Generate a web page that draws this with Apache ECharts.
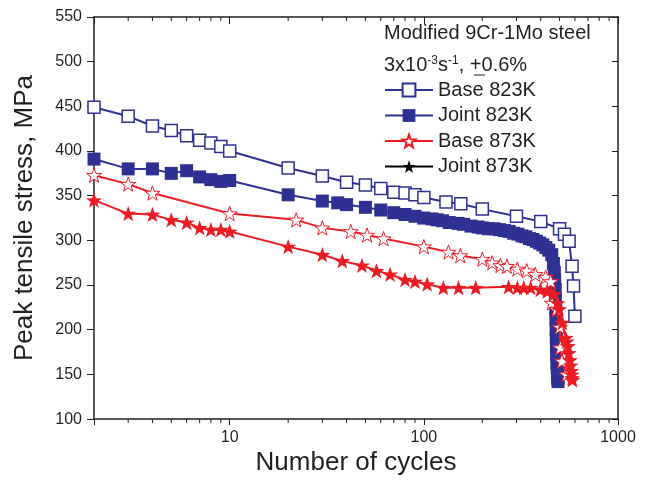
<!DOCTYPE html>
<html>
<head>
<meta charset="utf-8">
<script src="https://cdn.jsdelivr.net/npm/echarts@6/dist/echarts.min.js"></script>
<style>
  html, body { margin: 0; padding: 0; background: #fff; }
  #chart { width: 651px; height: 481px; }
</style>
</head>
<body>
<div id="chart"></div>
<script>
// cycles / peak stress
var base823N = [2, 3, 4, 5, 6, 7, 8, 9, 10, 20, 30, 40, 50, 60, 70, 80, 90, 100, 130, 155, 200, 300, 400, 500, 530, 560, 580, 590, 600];
var base823S = [449, 439, 428, 423, 417, 412, 409, 405, 400, 381, 372, 365, 362, 358, 354, 353, 351, 348, 343, 341, 335, 327, 321, 313, 307, 299, 271, 249, 215];

var joint823N = [2, 3, 4, 5, 6, 7, 8, 9, 10, 20, 30, 36, 40, 50, 60, 70, 80, 90, 100, 110, 117, 125, 135, 150, 160, 175, 190, 200, 215, 230, 245, 260, 275, 290, 305, 320, 335, 350, 365, 380, 395, 410, 425, 440, 456, 465, 470, 472, 475, 476, 478, 479, 480, 481, 482, 483, 485, 486, 488, 489, 490, 491];
var joint823S = [391, 380, 380, 375, 378, 371, 368, 366, 367, 351, 344, 342, 340, 337, 334, 331, 329, 327, 325, 324, 323, 322, 320, 319, 318, 316, 315, 314, 313, 313, 312, 311, 310, 308, 307, 305, 304, 302, 301, 299, 297, 295, 292, 289, 284, 274, 264, 255, 245, 235, 222, 212, 200, 190, 180, 172, 163, 158, 152, 148, 145, 142];

var base873N = [2, 3, 4, 10, 22, 30, 42, 51, 62, 100, 134, 154, 200, 225, 248, 268, 303, 339, 375, 424, 450, 456, 483, 502, 505, 515, 545];
var base873S = [373, 363, 353, 330, 323, 314, 310, 306, 302, 293, 287, 283, 279, 275, 272, 271, 268, 266, 262, 259, 254, 230, 223, 203, 180, 165, 150];

var joint873N = [2, 3, 4, 5, 6, 7, 8, 9, 10, 20, 30, 38, 48, 57, 67, 80, 90, 104, 126, 151, 185, 273, 303, 327, 355, 398, 432, 468, 488, 497, 517, 537, 545, 552, 558, 565, 570, 574, 577, 580, 582];
var joint873S = [345, 330, 329, 323, 320, 314, 312, 312, 310, 293, 284, 277, 272, 266, 262, 256, 254, 251, 247, 247, 247, 248, 247, 247, 247, 245, 243, 240, 230, 223, 208, 191, 187, 182, 174, 166, 160, 154, 150, 146, 144];

var seriesNames = ['Base 823K', 'Joint 823K', 'Base 873K', 'Joint 873K'];
var xTickLabels = [10, 100, 1000];
var minorTicks = [3, 4, 5, 6, 7, 8, 9, 20, 30, 40, 50, 60, 70, 80, 90, 200, 300, 400, 500, 600, 700, 800, 900];

var xMin = 2, xMax = 1000, yMin = 100, yMax = 550;
var navy = '#2e3192';
var red = '#ed1c24';
var ink = '#231f20';
var font = 'Liberation Sans, Arial, sans-serif';
var star = 'path://M0,-10L2.35,-3.24L9.51,-3.09L3.8,1.24L5.88,8.09L0,4L-5.88,8.09L-3.8,1.24L-9.51,-3.09L-2.35,-3.24Z';

function pairs(xs, ys) {
  return xs.map(function (x, i) { return [x, ys[i]]; });
}

// minor ticks of the log axis, bottom (outward) and top (inward)
function renderMinorTick(params, api) {
  var b = api.coord([api.value(0), yMin]);
  var t = api.coord([api.value(0), yMax]);
  var st = { stroke: ink, lineWidth: 1 };
  return {
    type: 'group',
    children: [
      { type: 'line', shape: { x1: b[0], y1: b[1], x2: b[0], y2: b[1] + 4 }, style: st },
      { type: 'line', shape: { x1: t[0], y1: t[1], x2: t[0], y2: t[1] + 4 }, style: st }
    ]
  };
}

var myChart = echarts.init(document.getElementById('chart'));

var axisLine = { lineStyle: { color: ink, width: 1.5 } };

var option = {
  animation: false,
  backgroundColor: '#fff',
  textStyle: { fontFamily: font },
  grid: { left: 94, right: 33, top: 17, bottom: 58 },
  xAxis: [
    {
      type: 'log',
      min: xMin,
      max: xMax,
      axisLine: axisLine,
      axisTick: { inside: false, length: 6, lineStyle: { color: ink, width: 1 } },
      splitLine: { show: false },
      axisLabel: {
        margin: 10,
        color: ink,
        fontSize: 16,
        fontFamily: font,
        formatter: function (v) {
          return xTickLabels.indexOf(Math.round(v)) >= 0 ? String(Math.round(v)) : '';
        }
      },
      name: 'Number of cycles',
      nameLocation: 'middle',
      nameGap: 30,
      nameTextStyle: { fontSize: 26, color: ink, fontFamily: font }
    },
    {
      type: 'log',
      min: xMin,
      max: xMax,
      position: 'top',
      axisLine: axisLine,
      axisTick: { inside: true, length: 7, lineStyle: { color: ink, width: 1 } },
      axisLabel: { show: false },
      splitLine: { show: false }
    }
  ],
  yAxis: [
    {
      type: 'value',
      min: yMin,
      max: yMax,
      interval: 50,
      axisLine: { show: true, lineStyle: { color: ink, width: 1.5 } },
      axisTick: { show: true, inside: false, length: 7, lineStyle: { color: ink, width: 1 } },
      splitLine: { show: false },
      axisLabel: { margin: 12, color: ink, fontSize: 16, fontFamily: font },
      name: 'Peak tensile stress, MPa',
      nameLocation: 'middle',
      nameGap: 56,
      nameTextStyle: { fontSize: 26, color: ink, fontFamily: font }
    },
    {
      type: 'value',
      min: yMin,
      max: yMax,
      interval: 50,
      position: 'right',
      axisLine: { show: true, lineStyle: { color: ink, width: 1.5 } },
      axisTick: { show: true, inside: true, length: 6, lineStyle: { color: ink, width: 1 } },
      axisLabel: { show: false },
      splitLine: { show: false }
    }
  ],
  legend: {
    orient: 'vertical',
    left: 384,
    top: 80,
    padding: 0,
    itemWidth: 48,
    itemHeight: 16,
    itemGap: 5.5,
    textStyle: { fontSize: 20, color: ink, fontFamily: font },
    data: [
      { name: 'Base 823K' },
      { name: 'Joint 823K' },
      { name: 'Base 873K' },
      { name: 'Joint 873K', itemStyle: { color: '#000', borderColor: '#000' }, lineStyle: { color: '#000' } }
    ]
  },
  graphic: [
    {
      type: 'text',
      left: 384,
      top: 23,
      style: { text: 'Modified 9Cr-1Mo steel', font: '20px ' + font, fill: ink }
    },
    {
      type: 'text',
      left: 384,
      top: 55,
      style: {
        text: '3x10{sup|-3}s{sup|-1}, +0.6%',
        font: '20px ' + font,
        fill: ink,
        rich: {
          sup: { fontSize: 12, fontFamily: font, verticalAlign: 'top', fill: ink }
        }
      }
    },
    {
      type: 'line',
      shape: { x1: 474, y1: 75, x2: 485, y2: 75 },
      style: { stroke: ink, lineWidth: 1 }
    }
  ],
  series: [
    {
      name: seriesNames[0],
      type: 'line',
      data: pairs(base823N, base823S),
      symbol: 'rect',
      symbolSize: 12,
      lineStyle: { color: navy, width: 2 },
      itemStyle: { color: '#fff', borderColor: navy, borderWidth: 1.5 },
      z: 2
    },
    {
      name: seriesNames[1],
      type: 'line',
      data: pairs(joint823N, joint823S),
      symbol: 'rect',
      symbolSize: 13,
      lineStyle: { color: navy, width: 2 },
      itemStyle: { color: navy, borderColor: navy, borderWidth: 0 },
      z: 3
    },
    {
      name: seriesNames[2],
      type: 'line',
      data: pairs(base873N, base873S),
      symbol: star,
      symbolKeepAspect: true,
      symbolSize: 15,
      lineStyle: { color: red, width: 2 },
      itemStyle: { color: '#fff', borderColor: red, borderWidth: 1 },
      z: 4
    },
    {
      name: seriesNames[3],
      type: 'line',
      data: pairs(joint873N, joint873S),
      symbol: star,
      symbolKeepAspect: true,
      symbolSize: 16,
      lineStyle: { color: red, width: 2 },
      itemStyle: { color: red, borderColor: red, borderWidth: 0 },
      z: 5
    },
    {
      type: 'custom',
      name: 'minor',
      silent: true,
      clip: false,
      data: minorTicks.map(function (v) { return [v, yMin]; }),
      encode: { x: 0, y: 1 },
      renderItem: renderMinorTick,
      z: 1
    }
  ]
};

myChart.setOption(option);
</script>
</body>
</html>
